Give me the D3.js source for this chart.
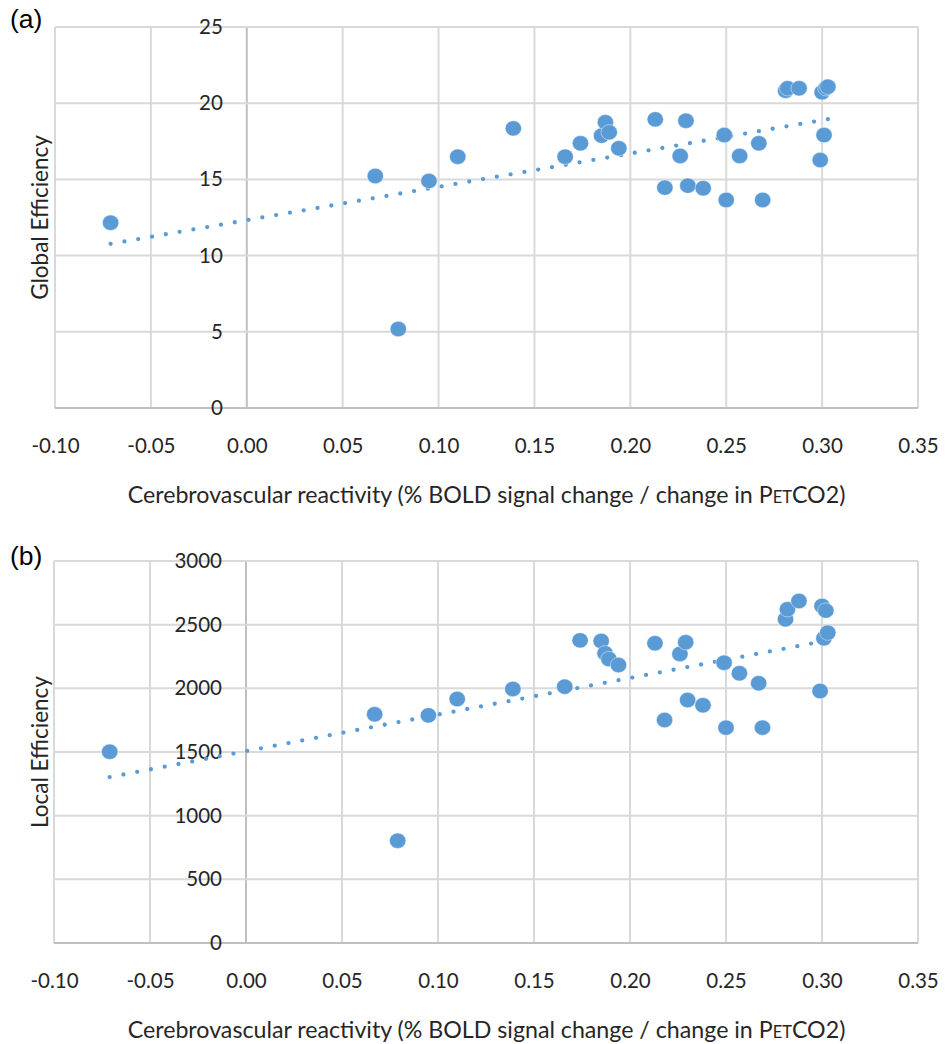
<!DOCTYPE html>
<html>
<head>
<meta charset="utf-8">
<script src="https://cdn.jsdelivr.net/npm/d3@7"></script>
<style>
  body { margin: 0; background: #fff; }
  svg text { font-family: Lato, "Open Sans", sans-serif; fill: #262626; }
</style>
</head>
<body>
<div id="chart"></div>
<script>
'use strict';

// CVR per subject (% BOLD signal change / change in PetCO2)
var cvr = [-0.071, 0.067, 0.079, 0.095, 0.110, 0.139, 0.166, 0.174, 0.185, 0.187,
           0.189, 0.194, 0.213, 0.218, 0.226, 0.229, 0.230, 0.238, 0.249, 0.250,
           0.257, 0.267, 0.269, 0.281, 0.282, 0.288, 0.299, 0.300, 0.301, 0.302, 0.303];

// panel (a)
var globalEff = [12.16, 15.22, 5.18, 14.9, 16.49, 18.35, 16.49, 17.37, 17.87, 18.75,
                 18.09, 17.04, 18.94, 14.46, 16.54, 18.85, 14.59, 14.42, 17.91, 13.65,
                 16.54, 17.37, 13.65, 20.82, 20.98, 20.98, 16.27, 20.72, 17.91, 20.98, 21.08];

// panel (b)
var localEff = [1502, 1796, 803, 1788, 1916, 1995, 2013, 2377, 2372, 2275,
                2230, 2183, 2354, 1751, 2270, 2362, 1908, 1867, 2201, 1691,
                2118, 2040, 1691, 2542, 2621, 2686, 1979, 2647, 2393, 2610, 2437];

var xTicks = [-0.10, -0.05, 0.00, 0.05, 0.10, 0.15, 0.20, 0.25, 0.30, 0.35];
var globalTicks = [0, 5, 10, 15, 20, 25];
var localTicks = [0, 500, 1000, 1500, 2000, 2500, 3000];

var W = 952, H = 1044;
var blue = '#5b9bd5';

var svg = d3.select('#chart').append('svg')
    .attr('width', W).attr('height', H);

var fmt2 = d3.format('.2f');


function fitLine(xs, ys) {
    var n = xs.length;
    var mx = d3.mean(xs), my = d3.mean(ys);
    var sxy = 0, sxx = 0;
    for (var i = 0; i < n; i++) {
        sxy += (xs[i] - mx) * (ys[i] - my);
        sxx += (xs[i] - mx) * (xs[i] - mx);
    }
    var b = sxy / sxx;
    return { b: b, a: my - b * mx };
}


function drawPanel(opt) {
    var x = d3.scaleLinear().domain([-0.10, 0.35]).range([opt.left, opt.right]);
    var y = d3.scaleLinear().domain([0, opt.yMax]).range([opt.bottom, opt.top]);

    var g = svg.append('g');

    // grid
    g.selectAll('.vgrid')
        .data(xTicks)
        .enter().append('line')
        .attr('x1', function(d) { return x(d); })
        .attr('x2', function(d) { return x(d); })
        .attr('y1', y(0)).attr('y2', y(opt.yMax))
        .style('stroke', function(d) { return Math.abs(d) < 1e-9 ? '#bfbfbf' : '#d9d9d9'; })
        .style('stroke-width', 2);

    g.selectAll('.hgrid')
        .data(opt.yTicks)
        .enter().append('line')
        .attr('x1', x(-0.10)).attr('x2', x(0.35))
        .attr('y1', function(d) { return y(d); })
        .attr('y2', function(d) { return y(d); })
        .style('stroke', function(d) { return d === 0 ? '#bfbfbf' : '#d9d9d9'; })
        .style('stroke-width', 2);

    // axes (labels only)
    var xAxis = g.append('g')
        .attr('transform', 'translate(0,' + y(0) + ')')
        .call(d3.axisBottom(x).tickValues(xTicks).tickSize(0).tickPadding(30)
            .tickFormat(function(d) { return fmt2(d).replace('\u2212', '-'); }));
    var yAxis = g.append('g')
        .attr('transform', 'translate(' + x(0) + ',0)')
        .call(d3.axisLeft(y).tickValues(opt.yTicks).tickSize(0).tickPadding(24)
            .tickFormat(d3.format('d')));

    [xAxis, yAxis].forEach(function(a) {
        a.select('.domain').remove();
        a.selectAll('text')
            .style('font-family', 'Lato, sans-serif')
            .style('font-size', '20.5px')
            .style('fill', '#262626');
    });

    // trendline across data range
    var fit = fitLine(cvr, opt.values);
    var x0 = d3.min(cvr), x1 = d3.max(cvr);
    g.append('line')
        .attr('x1', x(x0)).attr('y1', y(fit.a + fit.b * x0))
        .attr('x2', x(x1)).attr('y2', y(fit.a + fit.b * x1))
        .style('stroke', blue)
        .style('stroke-width', 4.3)
        .style('stroke-linecap', 'round')
        .style('stroke-dasharray', '0 14');

    // points
    g.selectAll('.pt')
        .data(cvr)
        .enter().append('ellipse')
        .attr('class', 'pt')
        .attr('cx', function(d) { return x(d); })
        .attr('cy', function(d, i) { return y(opt.values[i]); })
        .attr('rx', 8.2)
        .attr('ry', 7.7)
        .style('fill', blue)
        .style('stroke', 'rgba(255,255,255,0.55)')
        .style('stroke-width', 0.8);

    // axis titles
    var t = g.append('text')
        .attr('x', 486.5)
        .attr('y', y(0) + 95)
        .attr('text-anchor', 'middle')
        .style('font-size', '23.2px')
        .text('Cerebrovascular reactivity (% BOLD signal change / change in P');
    t.append('tspan').style('font-size', '16.5px').text('ET');
    t.append('tspan').text('CO2)');

    g.append('text')
        .attr('transform', 'translate(' + 48 + ',' + ((opt.top + opt.bottom) / 2) + ') rotate(-90)')
        .attr('text-anchor', 'middle')
        .style('font-size', '22.5px')
        .text(opt.yTitle);

    // panel tag
    g.append('text')
        .attr('x', 10).attr('y', opt.tagY)
        .style('font-family', '"Liberation Sans", Arial, sans-serif')
        .style('font-size', '26.5px')
        .style('fill', '#000')
        .text(opt.tag);
}


drawPanel({
    tag: '(a)', tagY: 28,
    left: 55, right: 918, top: 27, bottom: 408,
    yMax: 25, yTicks: globalTicks, values: globalEff,
    yTitle: 'Global Efficiency'
});

drawPanel({
    tag: '(b)', tagY: 564.5,
    left: 54, right: 918, top: 561, bottom: 943,
    yMax: 3000, yTicks: localTicks, values: localEff,
    yTitle: 'Local Efficiency'
});

</script>
</body>
</html>
